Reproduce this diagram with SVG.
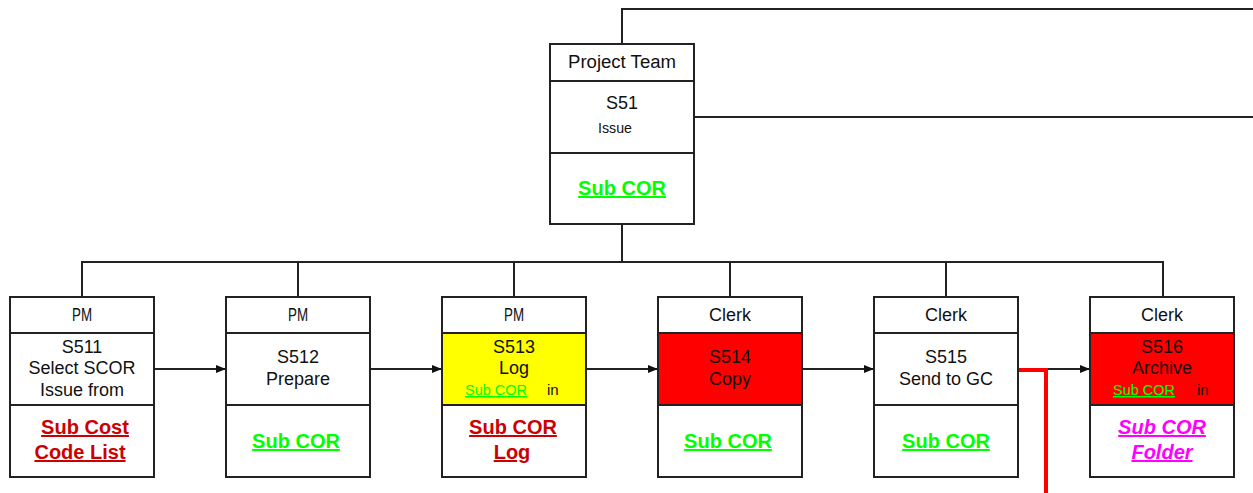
<svg xmlns="http://www.w3.org/2000/svg" width="1253" height="493" viewBox="0 0 1253 493">
<defs>
<style>
.box{fill:#fff;stroke:#222;stroke-width:2}
.ln{stroke:#222;stroke-width:2;fill:none}
.t{font-family:"Liberation Sans",Arial,sans-serif;font-size:18px;fill:#111;text-anchor:middle}
.h{font-family:"Liberation Sans",Arial,sans-serif;font-size:18px;fill:#111;text-anchor:middle}
.s{font-family:"Liberation Sans",Arial,sans-serif;font-size:15px;fill:#111}
.lk{font-family:"Liberation Sans",Arial,sans-serif;font-size:20px;font-weight:bold;text-anchor:middle;text-decoration:underline}
.g{fill:#00ff00}
.r{fill:#cc0000}
.m{fill:#ff00ff;font-style:italic}
.sg{fill:#00ff00;text-decoration:underline}
</style>
<marker id="ah" markerWidth="10" markerHeight="8" refX="10" refY="4" orient="auto" markerUnits="userSpaceOnUse">
<path d="M0,0 L10,4 L0,8 Z" fill="#111"/>
</marker>
</defs>
<g id="connectors">
<path class="ln" d="M622,44 V9 H1253"/>
<path class="ln" d="M694,117 H1253"/>
<path class="ln" d="M622,224 V262"/>
<path class="ln" d="M82,297 V262 H1163 V297"/>
<path class="ln" d="M298,262 V297 M514,262 V297 M730,262 V297 M946,262 V297"/>
<path class="ln" d="M154,369 H226" marker-end="url(#ah)"/>
<path class="ln" d="M370,369 H442" marker-end="url(#ah)"/>
<path class="ln" d="M586,369 H658" marker-end="url(#ah)"/>
<path class="ln" d="M802,369 H874" marker-end="url(#ah)"/>
<path class="ln" d="M1018,369 H1090" marker-end="url(#ah)"/>
<path d="M1018,370 H1046 V493" fill="none" stroke="#ff0000" stroke-width="4"/>
</g>
<g id="s51">
<rect class="box" x="550" y="44" width="144" height="180"/>
<path class="ln" d="M550,81 H694 M550,153 H694"/>
<text class="h" x="622" y="68" textLength="108" lengthAdjust="spacingAndGlyphs">Project Team</text>
<text class="t" x="622" y="109">S51</text>
<text class="s" x="615" y="133" text-anchor="middle" textLength="34" lengthAdjust="spacingAndGlyphs">Issue</text>
<text class="lk g" x="622" y="195">Sub COR</text>
</g>
<g id="s511">
<rect class="box" x="10" y="297" width="144" height="180"/>
<path class="ln" d="M10,333 H154 M10,405 H154"/>
<text class="h" x="82" y="321" textLength="20" lengthAdjust="spacingAndGlyphs">PM</text>
<text class="t" x="82" y="353">S511</text>
<text class="t" x="82" y="374">Select SCOR</text>
<text class="t" x="82" y="396">Issue from</text>
<text class="lk r" x="85" y="434">Sub Cost</text>
<text class="lk r" x="80" y="459">Code List</text>
</g>
<g id="s512">
<rect class="box" x="226" y="297" width="144" height="180"/>
<path class="ln" d="M226,333 H370 M226,405 H370"/>
<text class="h" x="298" y="321" textLength="20" lengthAdjust="spacingAndGlyphs">PM</text>
<text class="t" x="298" y="363">S512</text>
<text class="t" x="298" y="385">Prepare</text>
<text class="lk g" x="296" y="448">Sub COR</text>
</g>
<g id="s513">
<rect class="box" x="442" y="297" width="144" height="180"/>
<rect x="443" y="334" width="142" height="71" fill="#ffff00"/>
<path class="ln" d="M442,333 H586 M442,405 H586"/>
<text class="h" x="514" y="321" textLength="20" lengthAdjust="spacingAndGlyphs">PM</text>
<text class="t" x="514" y="353">S513</text>
<text class="t" x="514" y="374">Log</text>
<text class="s sg" x="465" y="395" textLength="62" lengthAdjust="spacingAndGlyphs">Sub COR</text>
<text class="s" x="547" y="395">in</text>
<text class="lk r" x="513" y="434">Sub COR</text>
<text class="lk r" x="512" y="459">Log</text>
</g>
<g id="s514">
<rect class="box" x="658" y="297" width="144" height="180"/>
<rect x="659" y="334" width="142" height="71" fill="#ff0000"/>
<path class="ln" d="M658,333 H802 M658,405 H802"/>
<text class="h" x="730" y="321">Clerk</text>
<text class="t" x="730" y="363">S514</text>
<text class="t" x="730" y="385">Copy</text>
<text class="lk g" x="728" y="448">Sub COR</text>
</g>
<g id="s515">
<rect class="box" x="874" y="297" width="144" height="180"/>
<path class="ln" d="M874,333 H1018 M874,405 H1018"/>
<text class="h" x="946" y="321">Clerk</text>
<text class="t" x="946" y="363">S515</text>
<text class="t" x="946" y="385">Send to GC</text>
<text class="lk g" x="946" y="448">Sub COR</text>
</g>
<g id="s516">
<rect class="box" x="1090" y="297" width="144" height="180"/>
<rect x="1091" y="334" width="142" height="71" fill="#ff0000"/>
<path class="ln" d="M1090,333 H1234 M1090,405 H1234"/>
<text class="h" x="1162" y="321">Clerk</text>
<text class="t" x="1162" y="353">S516</text>
<text class="t" x="1162" y="374">Archive</text>
<text class="s sg" x="1113" y="395" textLength="62" lengthAdjust="spacingAndGlyphs">Sub COR</text>
<text class="s" x="1197" y="395">in</text>
<text class="lk m" x="1162" y="434">Sub COR</text>
<text class="lk m" x="1162" y="459">Folder</text>
</g>
</svg>
